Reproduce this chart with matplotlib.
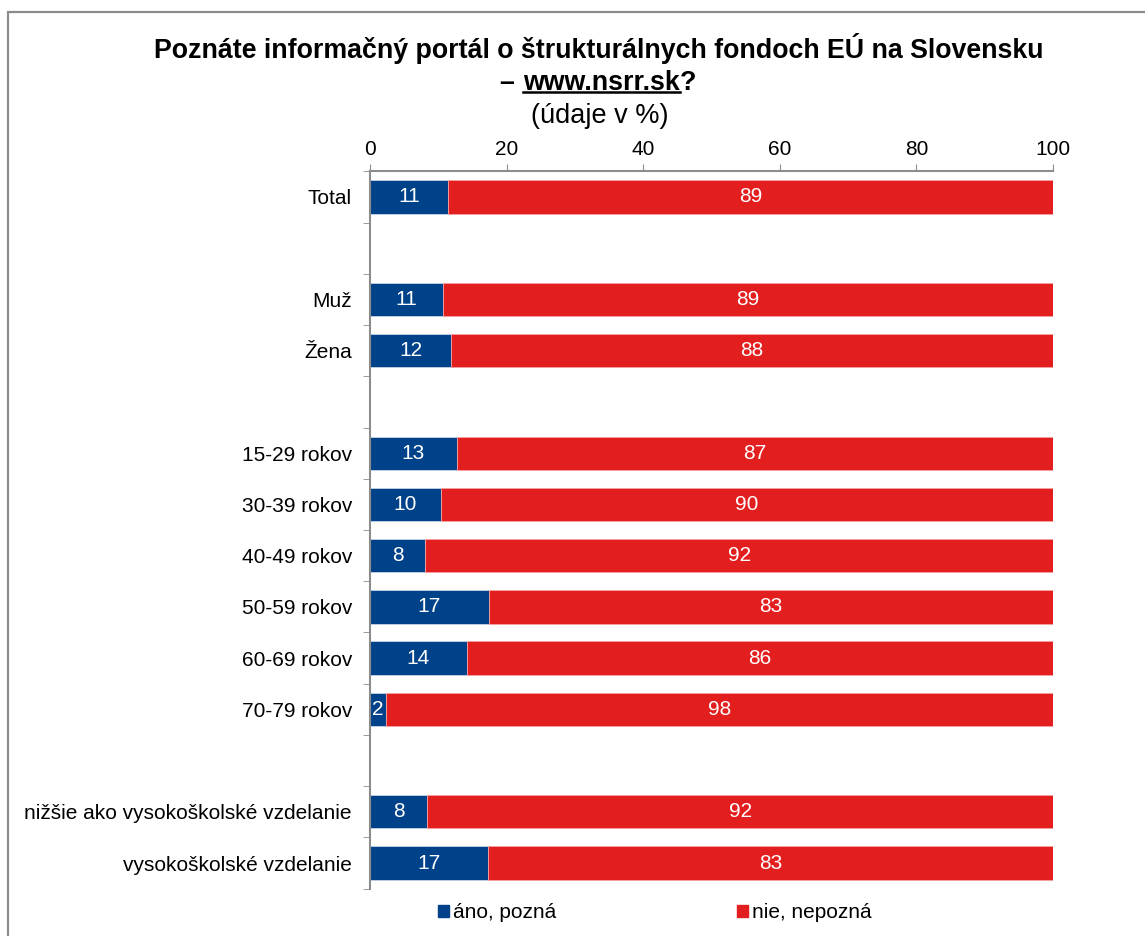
import matplotlib.pyplot as plt
from matplotlib.patches import Rectangle
from matplotlib.lines import Line2D

plt.rcParams['font.family'] = ['Liberation Sans', 'DejaVu Sans']

# rows from top to bottom; '' marks an empty spacer row
categories = ['Total', '', 'Muž', 'Žena', '', '15-29 rokov', '30-39 rokov',
              '40-49 rokov', '50-59 rokov', '60-69 rokov', '70-79 rokov', '',
              'nižšie ako vysokoškolské vzdelanie', 'vysokoškolské vzdelanie']
ano = [11.4, None, 10.7, 11.9, None, 12.7, 10.4, 8.1, 17.4, 14.2, 2.3, None, 8.4, 17.3]
ano_labels = [11, None, 11, 12, None, 13, 10, 8, 17, 14, 2, None, 8, 17]
nie_labels = [89, None, 89, 88, None, 87, 90, 92, 83, 86, 98, None, 92, 83]
xticks = [0, 20, 40, 60, 80, 100]

blue = '#00428a'
red = '#e31e1e'
gray = '#8c8c8c'

fig = plt.figure(figsize=(11.45, 9.36), dpi=100)
ax = fig.add_axes([0.3231, 0.0506, 0.5965, 0.7663])

n = len(categories)
for i, (a, la, ln) in enumerate(zip(ano, ano_labels, nie_labels)):
    if a is None:
        continue
    ax.barh(i, a, height=0.65, color=blue, edgecolor='#c8d4e6', linewidth=0.6)
    ax.barh(i, 100 - a, left=a, height=0.65, color=red, edgecolor='#f4a0a0', linewidth=0.6)
    ax.text(a / 2, i, str(la), color='white', ha='center', va='center', fontsize=15)
    ax.text(a + (100 - a) / 2, i, str(ln), color='white', ha='center', va='center', fontsize=15)

ax.set_xlim(0, 100)
ax.set_ylim(n - 0.5, -0.5)
ax.xaxis.tick_top()
ax.set_xticks(xticks)
ax.tick_params(axis='x', length=5, color=gray, labelsize=15, pad=4)
ax.set_yticks(range(n))
ax.set_yticklabels(categories)
ax.set_yticks([i - 0.5 for i in range(n + 1)], minor=True)
ax.tick_params(axis='y', which='major', length=0, labelsize=15, pad=13)
ax.tick_params(axis='y', which='minor', length=5, color=gray)
for s in ['right', 'bottom']:
    ax.spines[s].set_visible(False)
for s in ['left', 'top']:
    ax.spines[s].set_color(gray)
    ax.spines[s].set_linewidth(1.5)

# title
fig.text(0.523, 1 - 48 / 936, 'Poznáte informačný portál o štrukturálnych fondoch EÚ na Slovensku',
         ha='center', va='center', fontsize=19.3, fontweight='bold')
ty = 1 - 83 / 936
mid = fig.text(0.525, ty, 'www.nsrr.sk', ha='center', va='center', fontsize=19.3, fontweight='bold')
fig.canvas.draw()
bb = mid.get_window_extent().transformed(fig.transFigure.inverted())
fig.text(bb.x0, ty, '– ', ha='right', va='center', fontsize=19.3, fontweight='bold')
fig.text(bb.x1, ty, '?', ha='left', va='center', fontsize=19.3, fontweight='bold')
uy = bb.y0 + 3.5 / 936
fig.add_artist(Line2D([bb.x0, bb.x1], [uy, uy], color='black', linewidth=1.8))
fig.text(0.524, 1 - 116 / 936, '(údaje v %)', ha='center', va='center', fontsize=19.5)

# legend
handles = [Rectangle((0, 0), 1, 1, color=blue), Rectangle((0, 0), 1, 1, color=red)]
fig.legend(handles, ['áno, pozná', 'nie, nepozná'], loc='center', bbox_to_anchor=(0.572, 0.0246),
           ncol=2, frameon=False, fontsize=15, handlelength=0.5, handleheight=0.5,
           handletextpad=0.2, columnspacing=8.7)

# outer frame
fig.add_artist(Rectangle((8 / 1145, -0.1), 1.2, 1 - 12 / 936 + 0.1, transform=fig.transFigure,
                         fill=False, edgecolor=gray, linewidth=1.6))

fig.savefig('out.png', dpi=100)
